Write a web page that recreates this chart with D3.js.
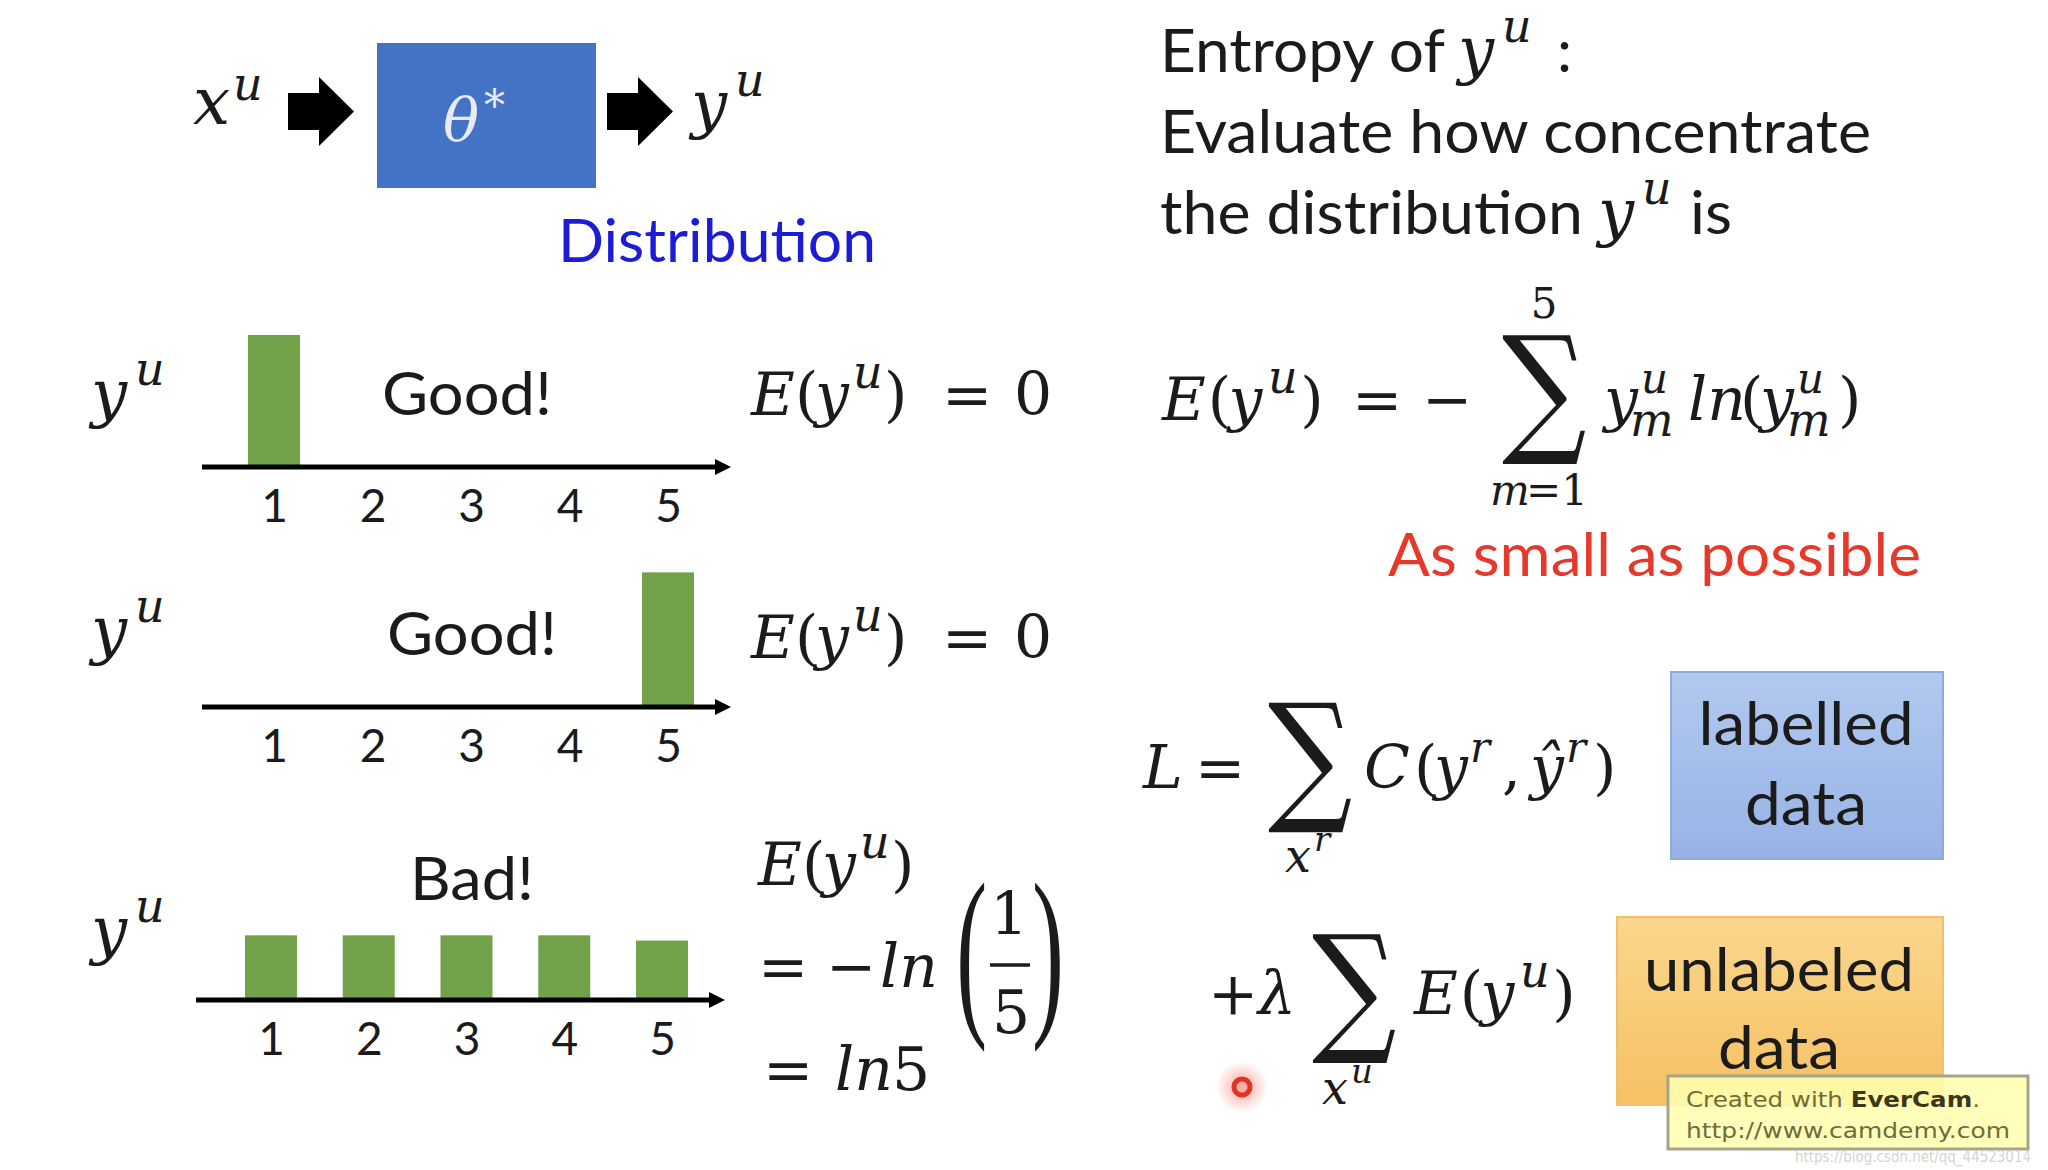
<!DOCTYPE html>
<html>
<head>
<meta charset="utf-8">
<script src="https://cdn.jsdelivr.net/npm/d3@7"></script>
<style>
  html, body { margin: 0; padding: 0; background: #fff; overflow: hidden; }
</style>
</head>
<body>
<div id="container"></div>
<script>
// values (bar heights relative to the tall bar)
var categories = [1, 2, 3, 4, 5];
var firstPeak = [1, 0, 0, 0, 0];
var lastPeak = [0, 0, 0, 0, 1.02];
var flatDist = [0.49, 0.49, 0.49, 0.49, 0.45];
var verdicts = ["Good!", "Good!", "Bad!"];

var width = 2048;
var height = 1170;

var MATH = "'DejaVu Serif', serif";
var SANS = "Lato, 'Open Sans', sans-serif";
var INK = "#1b1b1b";
var GREEN = "#71a249";

var svg = d3.select("#container").append("svg")
    .attr("width", width)
    .attr("height", height);

var defs = svg.append("defs");

// small text helper
function put(g, s, x, y, o) {
    o = o || {};
    var el = g.append("text")
        .attr("x", x).attr("y", y)
        .attr("font-family", o.f || MATH)
        .attr("font-size", o.s || 60)
        .attr("fill", o.c || INK)
        .text(s);
    if (o.i) el.attr("font-style", "italic");
    if (o.a) el.attr("text-anchor", o.a);
    if (o.w) el.attr("font-weight", o.w);
    if (o.len) el.attr("textLength", o.len).attr("lengthAdjust", "spacingAndGlyphs");
    return el;
}

// stretch a glyph so its ink fills a box [x0, y0, x1, y1]
var ctx = document.createElement("canvas").getContext("2d");
function fitGlyph(g, s, box, fam) {
    ctx.font = "100px " + fam;
    var m = ctx.measureText(s);
    var iw = m.actualBoundingBoxLeft + m.actualBoundingBoxRight;
    var ih = m.actualBoundingBoxAscent + m.actualBoundingBoxDescent;
    var sx = (box[2] - box[0]) / iw, sy = (box[3] - box[1]) / ih;
    var tx = box[0] + m.actualBoundingBoxLeft * sx;
    var ty = box[3] - m.actualBoundingBoxDescent * sy;
    g.append("text")
        .attr("transform", "translate(" + tx + "," + ty + ") scale(" + sx + "," + sy + ")")
        .attr("font-family", fam)
        .attr("font-size", 100)
        .attr("fill", INK)
        .text(s);
}

// E(y^u)
function eyu(g, x, b, k) {
    k = k || 1;
    put(g, "E", x, b, {i: 1});
    put(g, "(", x + 44 * k, b);
    put(g, "y", x + 64 * k, b, {i: 1});
    put(g, "u", x + 102 * k, b - 27, {i: 1, s: 46});
    put(g, ")", x + 133 * k, b);
}

function yu(g, x, b) {
    put(g, "y", x, b, {i: 1, s: 64});
    put(g, "u", x + 44, b - 30, {i: 1, s: 46});
}

function fatArrow(g, x0) {
    var pts = [[0, 93], [31, 93], [31, 77], [66, 111.5], [31, 146], [31, 130], [0, 130]];
    g.append("polygon")
        .attr("points", pts.map(function(p) { return (x0 + p[0]) + "," + p[1]; }).join(" "))
        .attr("fill", "#000");
}

// ---------- top: x -> theta -> y ----------
var topRow = svg.append("g");
put(topRow, "x", 193, 124, {i: 1, s: 66});
put(topRow, "u", 233, 100, {i: 1, s: 46});
fatArrow(topRow, 288);
topRow.append("rect").attr("x", 377).attr("y", 43).attr("width", 219).attr("height", 145)
    .attr("fill", "#4472c4");
put(topRow, "\u03b8", 443, 141, {i: 1, s: 60, c: "#e8eaf8"});
put(topRow, "*", 484, 120, {s: 42, c: "#e8eaf8"});
fatArrow(topRow, 607);
yu(topRow, 691, 126);
put(topRow, "Distribution", 558, 262, {f: SANS, s: 60, c: "#1c1cd6", len: 318});

// ---------- the three distributions ----------
var panels = [
    {values: firstPeak, verdict: verdicts[0], axisY: 467, x0: 202, x1: 731, range: [274, 668], vx: 382, vy: 415, vlen: 170, labelY: 415},
    {values: lastPeak, verdict: verdicts[1], axisY: 707, x0: 202, x1: 731, range: [274, 668], vx: 387, vy: 655, vlen: 170, labelY: 652},
    {values: flatDist, verdict: verdicts[2], axisY: 1000, x0: 196, x1: 725, range: [271, 662], vx: 410, vy: 900, vlen: 124, labelY: 952}
];

var y = d3.scaleLinear().domain([0, 1]).range([0, 132]);

panels.forEach(function(p) {
    var g = svg.append("g");
    var x = d3.scalePoint().domain(categories).range(p.range);

    yu(g, 91, p.labelY);
    put(g, p.verdict, p.vx, p.vy, {f: SANS, s: 60, len: p.vlen});

    g.selectAll("rect.bar")
        .data(categories.map(function(c, i) { return {c: c, v: p.values[i]}; }))
        .enter().append("rect")
        .attr("class", "bar")
        .attr("x", function(d) { return x(d.c) - 26; })
        .attr("width", 52)
        .attr("y", function(d) { return p.axisY - y(d.v); })
        .attr("height", function(d) { return y(d.v); })
        .attr("fill", GREEN);

    // axis with arrow head
    g.append("line")
        .attr("x1", p.x0).attr("x2", p.x1 - 12)
        .attr("y1", p.axisY).attr("y2", p.axisY)
        .attr("stroke", "#000").attr("stroke-width", 5);
    g.append("polygon")
        .attr("points", [[p.x1 - 16, p.axisY - 8], [p.x1, p.axisY], [p.x1 - 16, p.axisY + 8]].join(" "))
        .attr("fill", "#000");

    var ax = g.append("g")
        .attr("transform", "translate(0," + p.axisY + ")")
        .call(d3.axisBottom(x).tickSize(0).tickPadding(0));
    ax.select(".domain").remove();
    ax.selectAll("text")
        .attr("y", 55).attr("dy", 0)
        .attr("font-family", SANS)
        .attr("font-size", 46)
        .attr("fill", INK);
});

// equations beside the charts
var eq = svg.append("g");
[415, 658].forEach(function(b) {
    eyu(eq, 751, b);
    put(eq, "=", 942, b);
    put(eq, "0", 1014, b);
});
eyu(eq, 758, 885);
put(eq, "=", 758, 987);
put(eq, "\u2212", 826, 987);
put(eq, "ln", 880, 987, {i: 1});
fitGlyph(eq, "(", [960, 882, 985, 1053], "'Liberation Serif'");
fitGlyph(eq, ")", [1035, 882, 1060, 1053], "'Liberation Serif'");
put(eq, "1", 1009, 935, {a: "middle"});
eq.append("line").attr("x1", 990).attr("x2", 1030).attr("y1", 965).attr("y2", 965)
    .attr("stroke", INK).attr("stroke-width", 3.5);
put(eq, "5", 1011, 1033, {a: "middle"});
put(eq, "=", 763, 1090);
put(eq, "ln", 835, 1090, {i: 1});
put(eq, "5", 892, 1090);

// ---------- right column ----------
var rt = svg.append("g");
put(rt, "Entropy of", 1160, 72, {f: SANS, len: 285});
yu(rt, 1458, 72);
put(rt, ":", 1557, 72, {f: SANS});
put(rt, "Evaluate how concentrate", 1160, 153, {f: SANS, len: 711});
put(rt, "the distribution", 1160, 234, {f: SANS, len: 423});
yu(rt, 1598, 234);
put(rt, "is", 1690, 234, {f: SANS, len: 42});

// entropy formula
eyu(rt, 1162, 420, 1.04);
put(rt, "=", 1352, 420);
put(rt, "\u2212", 1422, 420);
fitGlyph(rt, "\u2211", [1502, 335, 1586, 465], MATH);
put(rt, "5", 1544, 318, {s: 42, a: "middle"});
put(rt, "m", 1490, 505, {i: 1, s: 42});
put(rt, "=1", 1526, 505, {s: 42});
put(rt, "y", 1604, 420, {i: 1});
put(rt, "u", 1641, 393, {i: 1, s: 42});
put(rt, "m", 1630, 436, {i: 1, s: 46});
put(rt, "ln", 1688, 420, {i: 1});
put(rt, "(", 1740, 420);
put(rt, "y", 1760, 420, {i: 1});
put(rt, "u", 1797, 393, {i: 1, s: 42});
put(rt, "m", 1787, 436, {i: 1, s: 46});
put(rt, ")", 1838, 420);

put(rt, "As small as possible", 1388, 576, {f: SANS, c: "#e5392b", len: 533});

// loss formula
put(rt, "L", 1143, 788, {i: 1});
put(rt, "=", 1195, 788);
fitGlyph(rt, "\u2211", [1268, 702, 1352, 833], MATH);
put(rt, "x", 1285, 872, {i: 1, s: 46});
put(rt, "r", 1314, 851, {i: 1, s: 34});
put(rt, "C", 1364, 788, {i: 1});
put(rt, "(", 1414, 788);
put(rt, "y", 1434, 788, {i: 1});
put(rt, "r", 1470, 762, {i: 1, s: 42});
put(rt, ",", 1502, 788);
put(rt, "\u0177", 1530, 788, {i: 1});
put(rt, "r", 1566, 762, {i: 1, s: 42});
put(rt, ")", 1593, 788);

put(rt, "+", 1208, 1014);
put(rt, "\u03bb", 1258, 1014, {i: 1});
fitGlyph(rt, "\u2211", [1312, 934, 1396, 1064], MATH);
put(rt, "x", 1322, 1104, {i: 1, s: 46});
put(rt, "u", 1351, 1083, {i: 1, s: 34});
eyu(rt, 1414, 1014, 1.04);

// labelled / unlabeled boxes
var gBlue = defs.append("linearGradient").attr("id", "gBlue").attr("x1", 0).attr("y1", 0).attr("x2", 0).attr("y2", 1);
gBlue.append("stop").attr("offset", "0%").attr("stop-color", "#b2c8ef");
gBlue.append("stop").attr("offset", "100%").attr("stop-color", "#97b3e6");
var gOrange = defs.append("linearGradient").attr("id", "gOrange").attr("x1", 0).attr("y1", 0).attr("x2", 0).attr("y2", 1);
gOrange.append("stop").attr("offset", "0%").attr("stop-color", "#fad68c");
gOrange.append("stop").attr("offset", "100%").attr("stop-color", "#f5c163");

rt.append("rect").attr("x", 1671).attr("y", 672).attr("width", 272).attr("height", 187)
    .attr("fill", "url(#gBlue)").attr("stroke", "#8eaadd").attr("stroke-width", 2);
put(rt, "labelled", 1806, 745, {f: SANS, a: "middle", len: 215});
put(rt, "data", 1806, 825, {f: SANS, a: "middle", len: 122});

rt.append("rect").attr("x", 1617).attr("y", 917).attr("width", 326).attr("height", 188)
    .attr("fill", "url(#gOrange)").attr("stroke", "#efc068").attr("stroke-width", 2);
put(rt, "unlabeled", 1779, 991, {f: SANS, a: "middle", len: 270});
put(rt, "data", 1779, 1069, {f: SANS, a: "middle", len: 122});

// ---------- overlays: pointer dot and recorder watermark ----------
var glow = defs.append("radialGradient").attr("id", "glow");
glow.append("stop").attr("offset", "0%").attr("stop-color", "#ff5040").attr("stop-opacity", 0.55);
glow.append("stop").attr("offset", "100%").attr("stop-color", "#ff6050").attr("stop-opacity", 0);
svg.append("circle").attr("cx", 1242).attr("cy", 1087).attr("r", 26).attr("fill", "url(#glow)");
svg.append("circle").attr("cx", 1242).attr("cy", 1087).attr("r", 8)
    .attr("fill", "#f7b0a8").attr("stroke", "#e23424").attr("stroke-width", 5);

var wm = svg.append("g");
wm.append("rect").attr("x", 1668).attr("y", 1076).attr("width", 360).attr("height", 73)
    .attr("fill", "#ffffb0").attr("fill-opacity", 0.88)
    .attr("stroke", "#a5a48c").attr("stroke-width", 3);
var line1 = wm.append("text").attr("x", 1686).attr("y", 1107)
    .attr("font-family", "'DejaVu Sans', sans-serif").attr("font-size", 21)
    .attr("fill", "#6f6c3a")
    .attr("textLength", 294).attr("lengthAdjust", "spacingAndGlyphs");
line1.append("tspan").text("Created with ");
line1.append("tspan").attr("font-weight", "bold").attr("fill", "#3d361a").text("EverCam");
line1.append("tspan").text(".");
wm.append("text").attr("x", 1686).attr("y", 1138)
    .attr("font-family", "'DejaVu Sans', sans-serif").attr("font-size", 21)
    .attr("fill", "#6f6c3a")
    .attr("textLength", 324).attr("lengthAdjust", "spacingAndGlyphs")
    .text("http://www.camdemy.com");
wm.append("text").attr("x", 1795).attr("y", 1162)
    .attr("font-family", "'DejaVu Sans', sans-serif").attr("font-size", 15)
    .attr("fill", "#d4d4d4")
    .attr("textLength", 236).attr("lengthAdjust", "spacingAndGlyphs")
    .text("https://blog.csdn.net/qq_44523014");
</script>
</body>
</html>
